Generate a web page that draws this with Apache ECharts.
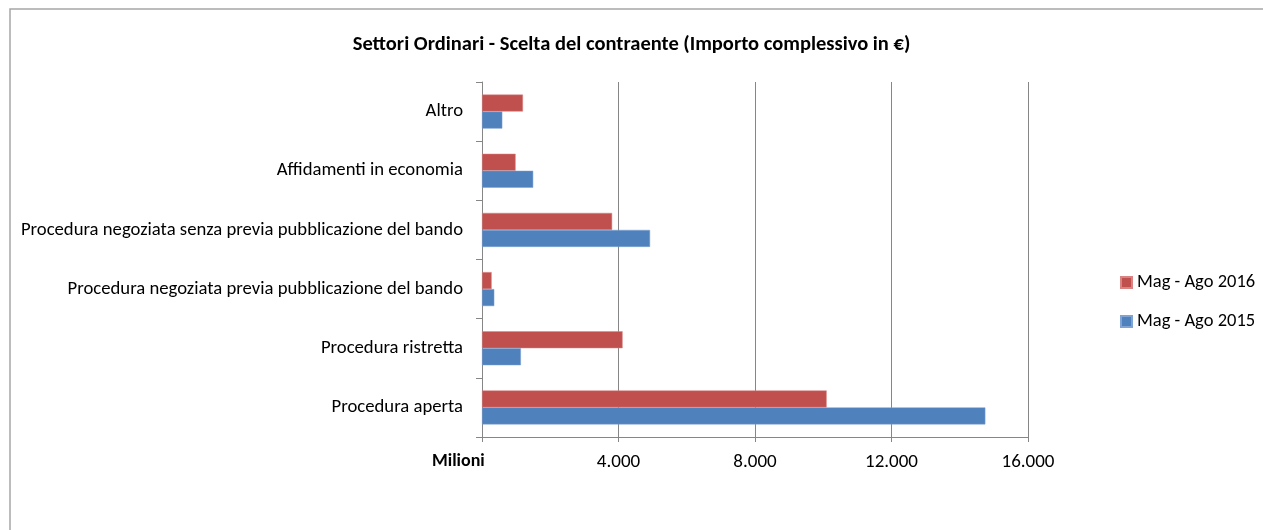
<!DOCTYPE html>
<html>
<head>
<meta charset="utf-8">
<style>
  html, body { margin: 0; padding: 0; background: #fff; }
  #chart { width: 1263px; height: 530px; }
</style>
<script src="https://cdn.jsdelivr.net/npm/echarts@6/dist/echarts.min.js"></script>
</head>
<body>
<div id="chart"></div>
<script>
// categories from bottom to top (as drawn by the category axis)
var categories = [
    'Procedura aperta',
    'Procedura ristretta',
    'Procedura negoziata previa pubblicazione del bando',
    'Procedura negoziata senza previa pubblicazione del bando',
    'Affidamenti in economia',
    'Altro'
];
var seriesNames = ['Mag - Ago 2016', 'Mag - Ago 2015'];
var values2016 = [10100, 4120, 283, 3813, 985, 1200];
var values2015 = [14750, 1140, 360, 4925, 1500, 595];

var font = 'Carlito, "Liberation Sans", sans-serif';

function fmt(v) {
    if (v === 0) return '';
    return String(v).replace(/\B(?=(\d{3})+(?!\d))/g, '.');
}

var myChart = echarts.init(document.getElementById('chart'));
var option = {
    backgroundColor: '#fff',
    textStyle: { fontFamily: font },
    title: {
        text: 'Settori Ordinari - Scelta del contraente (Importo complessivo in €)',
        left: 'center',
        top: 29,
        textStyle: { fontFamily: font, fontSize: 20.5, fontWeight: 'bold', color: '#000' }
    },
    legend: {
        orient: 'vertical',
        left: 1115,
        top: 268,
        itemWidth: 11,
        itemHeight: 11,
        itemGap: 20,
        icon: 'rect',
        data: seriesNames,
        textStyle: { fontFamily: font, fontSize: 18.5, color: '#000' }
    },
    grid: { left: 482, right: 235, top: 82, bottom: 93, containLabel: false },
    xAxis: {
        type: 'value',
        min: 0,
        max: 16000,
        interval: 4000,
        axisLine: { show: true, lineStyle: { color: '#868686' } },
        axisTick: { show: true, length: 5, lineStyle: { color: '#868686' } },
        splitLine: { show: true, lineStyle: { color: '#868686' } },
        axisLabel: { formatter: fmt, color: '#000', fontSize: 19, margin: 16, fontFamily: font }
    },
    yAxis: {
        type: 'category',
        data: categories,
        axisLine: { show: true, lineStyle: { color: '#868686' } },
        axisTick: { show: true, length: 6, lineStyle: { color: '#868686' } },
        axisLabel: { color: '#000', fontSize: 18.7, margin: 19, fontFamily: font }
    },
    series: [
        {
            name: seriesNames[0],
            type: 'bar',
            data: values2016,
            barWidth: 17,
            barGap: '0%',
            itemStyle: { color: '#C0504D', borderColor: '#D88482', borderWidth: 0.5 }
        },
        {
            name: seriesNames[1],
            type: 'bar',
            data: values2015,
            barWidth: 17,
            barGap: '0%',
            itemStyle: { color: '#4F81BD', borderColor: '#7FA3D3', borderWidth: 0.5 }
        }
    ],
    graphic: [
        {
            type: 'rect',
            shape: { x: 10, y: 9, width: 1400, height: 700 },
            style: { fill: 'none', stroke: '#a6a6a6', lineWidth: 1.5 },
            silent: true
        },
        {
            type: 'text',
            left: 432,
            top: 452,
            style: { text: 'Milioni', font: 'bold 18px ' + font, fill: '#000' }
        }
    ]
};
myChart.setOption(option);
</script>
</body>
</html>
